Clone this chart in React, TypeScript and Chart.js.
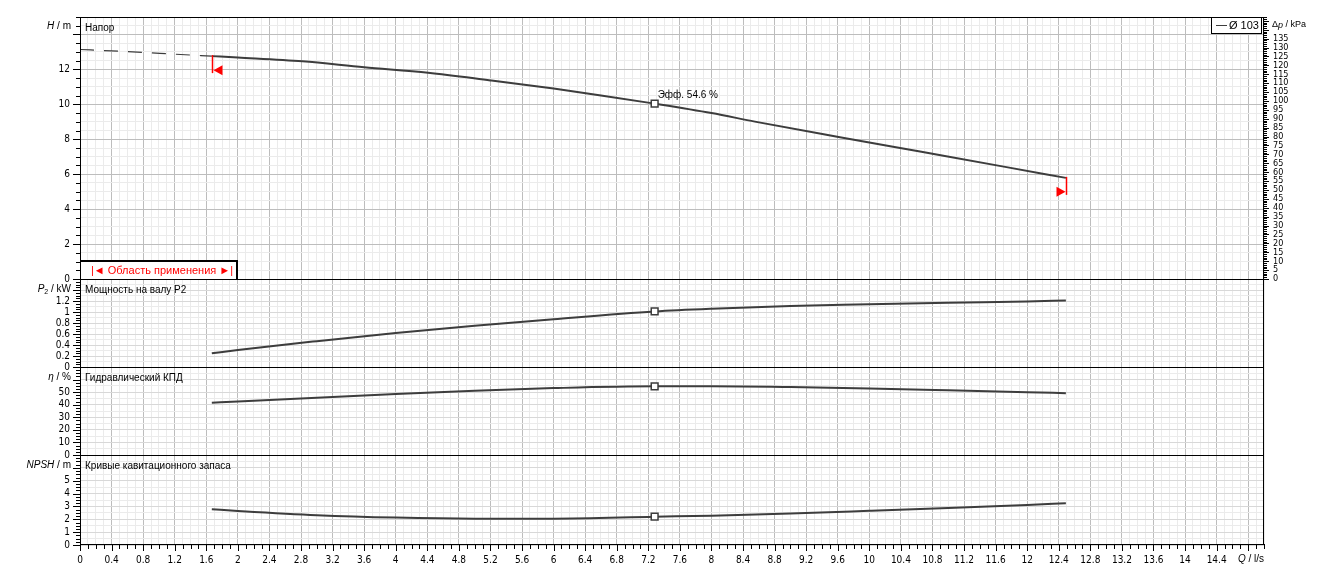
import React, { useEffect, useRef } from 'react';
import { Chart, registerables } from 'chart.js';

Chart.register(...registerables);

// ---------------- data ----------------
const Q_TICK_LABELS = [0, 0.4, 0.8, 1.2, 1.6, 2, 2.4, 2.8, 3.2, 3.6, 4, 4.4, 4.8, 5.2, 5.6, 6, 6.4, 6.8, 7.2, 7.6, 8, 8.4, 8.8, 9.2, 9.6, 10, 10.4, 10.8, 11.2, 11.6, 12, 12.4, 12.8, 13.2, 13.6, 14, 14.4];
const H_TICK_LABELS = [0, 2, 4, 6, 8, 10, 12];
const P_TICK_LABELS = [0, 0.2, 0.4, 0.6, 0.8, 1, 1.2];
const ETA_TICK_LABELS = [0, 10, 20, 30, 40, 50];
const NPSH_TICK_LABELS = [0, 1, 2, 3, 4, 5];
const DP_TICK_LABELS = [0, 5, 10, 15, 20, 25, 30, 35, 40, 45, 50, 55, 60, 65, 70, 75, 80, 85, 90, 95, 100, 105, 110, 115, 120, 125, 130, 135];

// head curve outside application range (dashed)
const H_EXT_Q = [0, 0.4, 0.8, 1.2, 1.67];
const H_EXT_VAL = [13.14, 13.06, 12.97, 12.87, 12.76];

// head curve inside application range
const H_Q = [1.67, 2.0, 2.82, 3.6, 4.41, 5.2, 6.0, 6.6, 7.28, 8.0, 8.55, 9.61, 10.66, 11.72, 12.49];
const H_VAL = [12.76, 12.68, 12.46, 12.12, 11.81, 11.37, 10.9, 10.51, 10.04, 9.5, 9.01, 8.13, 7.28, 6.42, 5.79];

// power, efficiency, NPSH
const CURVE_Q = [1.67, 2, 3, 4, 5, 6, 7.28, 8, 9, 10, 11, 12, 12.49];
const P_VAL = [0.25, 0.31, 0.47, 0.62, 0.75, 0.87, 1.01, 1.06, 1.11, 1.14, 1.17, 1.19, 1.21];
const ETA_VAL = [41.5, 42.6, 45.6, 48.6, 51.2, 53.2, 54.6, 54.6, 54.0, 52.9, 51.5, 50.0, 49.2];
const NPSH_VAL = [2.78, 2.65, 2.32, 2.13, 2.05, 2.05, 2.2, 2.28, 2.45, 2.66, 2.88, 3.12, 3.25];

const BEP_Q = 7.28;
const BEP_H = 10.04;
const BEP_P = 1.01;
const BEP_ETA = 54.6;
const BEP_NPSH = 2.2;

const Q_APP_MIN = 1.67;
const Q_APP_MAX = 12.49;
const KPA_PER_M = 9.81;

const LEGEND_LABEL = 'Ø 103';
const BEP_LABEL = 'Эфф. 54.6 %';
const RANGE_LABEL = '|◄ Область применения ►|';
const PANEL_TITLES = ['Напор', 'Мощность на валу P2', 'Гидравлический КПД', 'Кривые кавитационного запаса'];

// ---------------- styles / helpers ----------------
const TEXT_FONT = "'Liberation Sans', Arial, sans-serif";
const NARROW_FONT = "'Liberation Sans Narrow', 'Arial Narrow', 'DejaVu Sans Condensed', 'Liberation Sans', sans-serif";
const LINE = '#3d3d3d';
const GRID_MAJOR = '#bdbdbd';
const GRID_MINOR = '#ebebeb';

const steps = (min: number, max: number, step: number) => {
  const out: number[] = [];
  const n = Math.round((max - min) / step);
  for (let i = 0; i <= n; i++) out.push(Math.round((min + i * step) * 1e6) / 1e6);
  return out;
};
const isMult = (v: number, s: number) => Math.abs(v / s - Math.round(v / s)) < 1e-6;
const has = (arr: number[], v: number) => arr.some((l) => Math.abs(l - v) < 1e-6);
const fmt = (v: number) => String(Number(v.toFixed(2)));
const pts = (qs: number[], vs: number[]) => qs.map((q, i) => ({ x: q, y: vs[i] }));

const PANELS: Record<string, any> = {
  yH: { min: 0, max: 15, grid: 0.5, major: 2, tick: 0.5, labels: H_TICK_LABELS, weight: 262, order: 4, majorColor: GRID_MAJOR },
  yP: { min: 0, max: 1.6, grid: 0.1, major: 0.2, tick: 0.05, labels: P_TICK_LABELS, weight: 88, order: 3, majorColor: '#d8d8d8' },
  yE: { min: 0, max: 70, grid: 5, major: 10, tick: 2.5, labels: ETA_TICK_LABELS, weight: 88, order: 2, majorColor: '#d8d8d8' },
  yN: { min: 0, max: 7, grid: 0.5, major: 1, tick: 0.25, labels: NPSH_TICK_LABELS, weight: 90, order: 1, majorColor: '#d8d8d8' },
};

function yAxis(id: string) {
  const c = PANELS[id];
  return {
    type: 'linear',
    position: 'left',
    stack: 'panels',
    stackWeight: c.weight,
    weight: c.order,
    min: c.min,
    max: c.max,
    afterBuildTicks: (s: any) => {
      s.ticks = steps(c.min, c.max, c.grid).map((v) => ({ value: v }));
    },
    afterFit: (s: any) => {
      s.width = 80;
    },
    ticks: {
      autoSkip: false,
      padding: 10,
      color: '#000',
      font: { family: NARROW_FONT, size: 10 },
      callback: (v: number) => (has(c.labels, v) ? fmt(v) : ''),
    },
    grid: {
      drawTicks: false,
      color: (ctx: any) => (ctx.tick && isMult(ctx.tick.value, c.major) ? c.majorColor : GRID_MINOR),
    },
    border: { display: false },
  };
}

function textParts(ctx: CanvasRenderingContext2D, parts: { t: string; it?: boolean; sub?: boolean }[], x: number, y: number, align: 'left' | 'right', size = 10) {
  const fontOf = (p: any) => `${p.it ? 'italic ' : ''}${p.sub ? size - 3 : size}px ${TEXT_FONT}`;
  let w = 0;
  for (const p of parts) {
    ctx.font = fontOf(p);
    w += ctx.measureText(p.t).width;
  }
  let cx = align === 'right' ? x - w : x;
  ctx.textAlign = 'left';
  ctx.textBaseline = 'middle';
  for (const p of parts) {
    ctx.font = fontOf(p);
    ctx.fillText(p.t, cx, p.sub ? y + 3 : y);
    cx += ctx.measureText(p.t).width;
  }
}

const decorPlugin = {
  id: 'decor',
  afterDatasetsDraw(chart: any) {
    const { ctx, chartArea: a, scales } = chart;
    const x = scales.x;
    const yH = scales.yH;
    ctx.save();

    // frame and panel separators
    ctx.strokeStyle = '#000';
    ctx.lineWidth = 1;
    ctx.strokeRect(a.left + 0.5, a.top + 0.5, a.right - a.left - 1, a.bottom - a.top - 1);
    ctx.beginPath();
    for (const id of ['yH', 'yP', 'yE']) {
      const y = Math.round(scales[id].getPixelForValue(0)) + 0.5;
      ctx.moveTo(a.left, y);
      ctx.lineTo(a.right, y);
    }
    ctx.stroke();

    // tick marks
    ctx.beginPath();
    for (const id of Object.keys(PANELS)) {
      const c = PANELS[id];
      const s = scales[id];
      for (const v of steps(c.min, c.max, c.tick)) {
        const y = Math.round(s.getPixelForValue(v)) + 0.5;
        const len = isMult(v, c.major) ? 7 : 4;
        ctx.moveTo(a.left - len, y);
        ctx.lineTo(a.left + 1, y);
      }
    }
    for (const v of steps(0, 15, 0.1)) {
      const px = Math.round(x.getPixelForValue(v)) + 0.5;
      const len = isMult(v, 0.4) ? 6 : 4;
      ctx.moveTo(px, a.bottom - 1);
      ctx.lineTo(px, a.bottom + len);
    }
    const dp = scales.yDp;
    for (const v of steps(0, 147, 1)) {
      const y = Math.round(dp.getPixelForValue(v)) + 0.5;
      const len = isMult(v, 5) ? 5 : 3;
      ctx.moveTo(a.right - 1, y);
      ctx.lineTo(a.right + len, y);
    }
    ctx.stroke();

    // application range markers
    ctx.strokeStyle = '#ff0000';
    ctx.fillStyle = '#ff0000';
    ctx.lineWidth = 1.5;
    const xl = Math.round(x.getPixelForValue(Q_APP_MIN)) + 0.5;
    const yl = yH.getPixelForValue(H_VAL[0]);
    ctx.beginPath();
    ctx.moveTo(xl, yl - 1);
    ctx.lineTo(xl, yl + 17);
    ctx.stroke();
    ctx.beginPath();
    ctx.moveTo(xl + 1, yl + 14);
    ctx.lineTo(xl + 10, yl + 9);
    ctx.lineTo(xl + 10, yl + 19);
    ctx.closePath();
    ctx.fill();
    const xr = Math.round(x.getPixelForValue(Q_APP_MAX)) + 0.5;
    const yr = yH.getPixelForValue(H_VAL[H_VAL.length - 1]);
    ctx.beginPath();
    ctx.moveTo(xr, yr - 1);
    ctx.lineTo(xr, yr + 17);
    ctx.stroke();
    ctx.beginPath();
    ctx.moveTo(xr - 1, yr + 14);
    ctx.lineTo(xr - 10, yr + 9);
    ctx.lineTo(xr - 10, yr + 19);
    ctx.closePath();
    ctx.fill();
    ctx.lineWidth = 1;

    // panel titles
    ctx.fillStyle = '#000';
    const tops = ['yH', 'yP', 'yE', 'yN'].map((id) => scales[id].top);
    PANEL_TITLES.forEach((t, i) => {
      textParts(ctx, [{ t }], a.left + 5, tops[i] + 11, 'left');
    });

    // axis titles
    textParts(ctx, [{ t: 'H', it: true }, { t: ' / m' }], 71, tops[0] + 9, 'right');
    textParts(ctx, [{ t: 'P', it: true }, { t: '2', sub: true }, { t: ' / kW' }], 71, tops[1] + 10, 'right');
    textParts(ctx, [{ t: 'η', it: true }, { t: ' / %' }], 71, tops[2] + 10, 'right');
    textParts(ctx, [{ t: 'NPSH', it: true }, { t: ' / m' }], 71, tops[3] + 10, 'right');
    textParts(ctx, [{ t: 'Q', it: true }, { t: ' / l/s' }], a.right, a.bottom + 14, 'right');
    textParts(ctx, [{ t: 'Δ' }, { t: 'p', it: true }, { t: ' / kPa' }], a.right + 8, a.top + 8, 'left', 9);

    // BEP label
    textParts(ctx, [{ t: BEP_LABEL }], x.getPixelForValue(BEP_Q) + 3, yH.getPixelForValue(BEP_H) - 8, 'left');

    // legend box (top right)
    ctx.fillStyle = '#fff';
    ctx.fillRect(a.right - 53, a.top, 51, 17);
    ctx.strokeStyle = '#000';
    ctx.strokeRect(a.right - 52.5, a.top + 0.5, 50, 16);
    ctx.beginPath();
    ctx.strokeStyle = LINE;
    ctx.moveTo(a.right - 48, a.top + 8.5);
    ctx.lineTo(a.right - 37, a.top + 8.5);
    ctx.stroke();
    ctx.fillStyle = '#000';
    textParts(ctx, [{ t: LEGEND_LABEL }], a.right - 35, a.top + 9, 'left', 11);

    // application range box
    const y0 = Math.round(yH.getPixelForValue(0));
    ctx.fillStyle = '#fff';
    ctx.fillRect(a.left + 1, y0 - 18, 157, 18);
    ctx.strokeStyle = '#000';
    ctx.lineWidth = 2;
    ctx.beginPath();
    ctx.moveTo(a.left, y0 - 18);
    ctx.lineTo(a.left + 157, y0 - 18);
    ctx.lineTo(a.left + 157, y0);
    ctx.stroke();
    ctx.fillStyle = '#ff0000';
    ctx.font = `11px ${TEXT_FONT}`;
    ctx.textAlign = 'center';
    ctx.textBaseline = 'middle';
    ctx.fillText(RANGE_LABEL, a.left + 82, y0 - 8.5);

    ctx.restore();
  },
};

const bep = (id: string, y: number) => ({
  data: [{ x: BEP_Q, y }],
  yAxisID: id,
  showLine: false,
  pointStyle: 'rect',
  pointRadius: 4.8,
  pointBackgroundColor: '#ffffff',
  pointBorderColor: LINE,
  pointBorderWidth: 1.5,
  order: 0,
});
const curve = (id: string, data: any[], extra: any = {}) => ({
  data,
  yAxisID: id,
  borderColor: LINE,
  borderWidth: 2,
  pointRadius: 0,
  cubicInterpolationMode: 'monotone',
  fill: false,
  order: 1,
  ...extra,
});

export default function App() {
  const ref = useRef<HTMLCanvasElement>(null);
  useEffect(() => {
    if (!ref.current) return;
    const chart = new Chart(ref.current, {
      type: 'line',
      data: {
        datasets: [
          bep('yH', BEP_H),
          bep('yP', BEP_P),
          bep('yE', BEP_ETA),
          bep('yN', BEP_NPSH),
          curve('yH', pts(H_Q, H_VAL)),
          curve('yH', pts(H_EXT_Q, H_EXT_VAL), { borderWidth: 1.2, borderDash: [14, 10] }),
          curve('yP', pts(CURVE_Q, P_VAL)),
          curve('yE', pts(CURVE_Q, ETA_VAL)),
          curve('yN', pts(CURVE_Q, NPSH_VAL)),
        ] as any,
      },
      options: {
        responsive: false,
        maintainAspectRatio: false,
        devicePixelRatio: 1,
        animation: false,
        events: [],
        layout: { padding: { top: 17, left: 0, right: 0, bottom: 0 } },
        plugins: { legend: { display: false }, tooltip: { enabled: false }, title: { display: false } },
        scales: {
          x: {
            type: 'linear',
            position: 'bottom',
            min: 0,
            max: 15,
            afterBuildTicks: (s: any) => {
              s.ticks = steps(0, 15, 0.1).map((v) => ({ value: v }));
            },
            afterFit: (s: any) => {
              s.height = 34;
            },
            ticks: {
              autoSkip: false,
              maxRotation: 0,
              padding: 9,
              color: '#000',
              font: { family: NARROW_FONT, size: 10 },
              callback: (v: number) => (has(Q_TICK_LABELS, v) ? fmt(v) : ''),
            },
            grid: {
              drawTicks: false,
              color: (ctx: any) => (ctx.tick && isMult(ctx.tick.value, 0.4) ? GRID_MAJOR : GRID_MINOR),
            },
            border: { display: false },
          },
          yN: yAxis('yN'),
          yE: yAxis('yE'),
          yP: yAxis('yP'),
          yH: yAxis('yH'),
          yDp: {
            type: 'linear',
            position: 'right',
            stack: 'right',
            stackWeight: 262,
            weight: 0,
            min: 0,
            max: 15 * KPA_PER_M,
            afterBuildTicks: (s: any) => {
              s.ticks = DP_TICK_LABELS.map((v) => ({ value: v }));
            },
            afterFit: (s: any) => {
              s.width = 80;
            },
            ticks: { autoSkip: false, padding: 9, color: '#000', font: { family: NARROW_FONT, size: 9 }, callback: (v: number) => String(v) },
            grid: { display: false, drawTicks: false },
            border: { display: false },
          },
          yDummy: {
            type: 'linear',
            position: 'right',
            stack: 'right',
            stackWeight: 266,
            weight: 1,
            min: 0,
            max: 1,
            afterBuildTicks: (s: any) => {
              s.ticks = [];
            },
            afterFit: (s: any) => {
              s.width = 80;
            },
            ticks: { display: false },
            grid: { display: false, drawTicks: false },
            border: { display: false },
          },
        } as any,
      },
      plugins: [decorPlugin],
    });
    return () => chart.destroy();
  }, []);
  return (
    <div style={{ position: 'fixed', left: 0, top: 0, width: 1344, height: 579, background: '#fff' }}>
      <canvas ref={ref} width={1344} height={579} style={{ display: 'block', width: 1344, height: 579 }} />
    </div>
  );
}
